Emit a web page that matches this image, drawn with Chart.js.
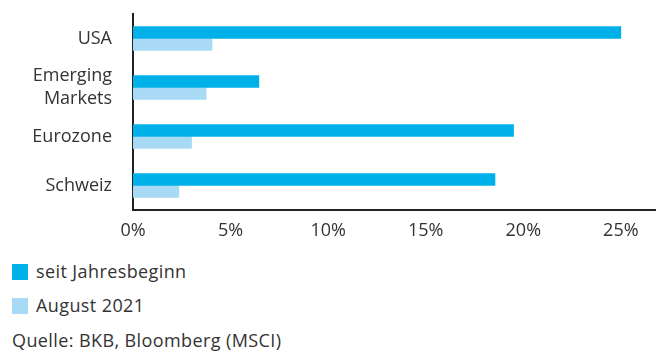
<!DOCTYPE html>
<html>
<head>
<meta charset="utf-8">
<script src="https://cdn.jsdelivr.net/npm/chart.js@4"></script>
<style>
  body { margin: 0; background: #fff; font-family: "Open Sans", sans-serif; color: #333; }
  #wrap { position: relative; width: 658px; height: 245px; }
  .leg { position: absolute; left: 12px; font-size: 18px; line-height: 22px; letter-spacing: 0.4px; }
  .leg span.box { display: inline-block; width: 16px; height: 16px; vertical-align: -2px; margin-right: 8px; }
</style>
</head>
<body>
<div id="wrap"><canvas id="myChart" width="658" height="245"></canvas></div>
<div class="leg" style="top:260px"><span class="box" style="background:#00b0e8"></span>seit Jahresbeginn</div>
<div class="leg" style="top:294px"><span class="box" style="background:#a8daf5"></span>August 2021</div>
<div class="leg" style="top:329px;left:12px">Quelle: BKB, Bloomberg (MSCI)</div>
<script>
let labels = ["USA", ["Emerging", "Markets"], "Eurozone", "Schweiz"];
let ytdLabel = "seit Jahresbeginn";
let ytdData = [25.0, 6.45, 19.5, 18.55];
let augLabel = "August 2021";
let augData = [4.05, 3.75, 3.0, 2.35];
let xTicks = [0, 5, 10, 15, 20, 25];
let backgroundColor = ["#00b0e8", "#a8daf5"];

new Chart(document.getElementById('myChart'), {
    type: "bar",
    data: {
        labels: labels,
        datasets: [
            { label: ytdLabel, backgroundColor: backgroundColor[0], data: ytdData, barThickness: 12 },
            { label: augLabel, backgroundColor: backgroundColor[1], data: augData, barThickness: 12 }
        ]
    },
    options: {
        indexAxis: "y",
        responsive: false,
        animation: false,
        layout: { padding: { top: 14, right: 3 } },
        datasets: { bar: { categoryPercentage: 0.612 } },
        plugins: { legend: { display: false }, tooltip: { enabled: false } },
        scales: {
            x: {
                min: 0,
                max: 26.75,
                afterFit: function (s) { s.height = 35; s.paddingLeft = 0; s.paddingRight = 0; },
                afterBuildTicks: function (s) { s.ticks = xTicks.map(v => ({ value: v })); },
                grid: { display: false, drawTicks: false },
                border: { display: true, color: "#222", width: 2 },
                ticks: {
                    padding: 10,
                    color: "#333",
                    font: { family: "Open Sans", size: 18 },
                    callback: v => v + "%"
                }
            },
            y: {
                afterFit: function (s) { s.width = 133; s.paddingTop = 0; s.paddingBottom = 0; },
                grid: { display: false, drawTicks: false },
                border: { display: true, color: "#222", width: 2 },
                ticks: {
                    autoSkip: false,
                    padding: 21,
                    color: "#333",
                    font: { family: "Open Sans", size: 18, lineHeight: 1.3 }
                }
            }
        }
    }
});
</script>
</body>
</html>
